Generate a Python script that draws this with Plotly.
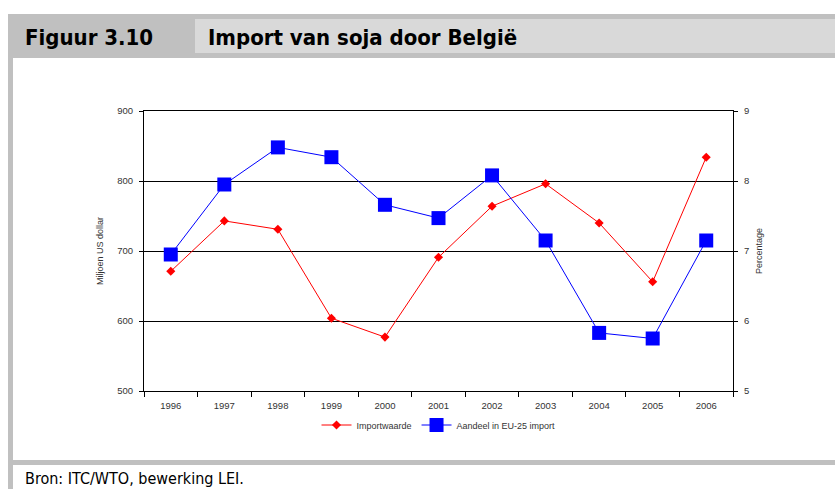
import plotly.graph_objects as go

years = ["1996", "1997", "1998", "1999", "2000", "2001", "2002", "2003", "2004", "2005", "2006"]
importwaarde = [671, 743, 731, 604, 577, 691, 764, 796, 740, 656, 834]  # miljoen US dollar
aandeel_eu25 = [6.95, 7.95, 8.48, 8.34, 7.66, 7.47, 8.08, 7.15, 5.83, 5.75, 7.15]  # percentage

W, H = 835, 489
L, R, T, B = 144, 733, 111, 391


def px(x):
    return (x - L) / (R - L)


def py(y):
    return (B - y) / (B - T)


NARROW = "DejaVu Sans Condensed, Roboto, Liberation Sans Narrow, sans-serif"
SMALL = "Liberation Sans, Arial, sans-serif"

fig = go.Figure()
fig.add_trace(go.Scatter(
    x=years, y=importwaarde, name="Importwaarde", mode="lines+markers",
    line=dict(color="#ff0000", width=1),
    marker=dict(symbol="diamond", size=7, color="#ff0000"),
    yaxis="y"))
fig.add_trace(go.Scatter(
    x=years, y=aandeel_eu25, name="Aandeel in EU-25 import", mode="lines+markers",
    line=dict(color="#0000ff", width=1),
    marker=dict(symbol="square", size=14, color="#0000ff"),
    yaxis="y2"))

gray = "#c0c0c0"
light = "#d9d9d9"
shapes = [
    dict(type="rect", xref="paper", yref="paper", x0=px(8), x1=px(835), y0=py(14), y1=py(58),
         fillcolor=gray, line=dict(width=0), layer="below"),
    dict(type="rect", xref="paper", yref="paper", x0=px(195), x1=px(835), y0=py(19), y1=py(53),
         fillcolor=light, line=dict(width=0), layer="below"),
    dict(type="rect", xref="paper", yref="paper", x0=px(8), x1=px(13), y0=py(14), y1=py(489),
         fillcolor=gray, line=dict(width=0), layer="below"),
    dict(type="rect", xref="paper", yref="paper", x0=px(8), x1=px(835), y0=py(460), y1=py(465),
         fillcolor=gray, line=dict(width=0), layer="below"),
]

annotations = [
    dict(text="<b>Figuur 3.10</b>", xref="paper", yref="paper", x=px(23), y=py(37),
         xanchor="left", yanchor="middle", showarrow=False,
         font=dict(family=NARROW, size=22, color="#000000")),
    dict(text="<b>Import van soja door België</b>", xref="paper", yref="paper", x=px(206), y=py(37),
         xanchor="left", yanchor="middle", showarrow=False,
         font=dict(family=NARROW, size=22, color="#000000")),
    dict(text="Bron: ITC/WTO, bewerking LEI.", xref="paper", yref="paper", x=px(23), y=py(478),
         xanchor="left", yanchor="middle", showarrow=False,
         font=dict(family=NARROW, size=16, color="#000000")),
]

fig.update_layout(
    width=W, height=H,
    margin=dict(l=L, r=W - R, t=T, b=H - B),
    paper_bgcolor="white", plot_bgcolor="white",
    showlegend=True,
    legend=dict(orientation="h", x=0.5, xanchor="center", y=py(425), yanchor="middle",
                font=dict(family=SMALL, size=9, color="#333333"),
                bgcolor="rgba(0,0,0,0)", itemwidth=30, tracegroupgap=0),
    xaxis=dict(type="category", range=[-0.5, 10.5], showgrid=False, zeroline=False,
               showline=True, linecolor="#000000", linewidth=1, mirror=True,
               ticks="outside", tickson="boundaries", ticklen=5, tickcolor="#000000",
               ticklabelstandoff=6,
               tickfont=dict(family=SMALL, size=9.5, color="#333333")),
    yaxis=dict(range=[500, 900], dtick=100, showgrid=True, gridcolor="#000000", gridwidth=1,
               zeroline=False, showline=True, linecolor="#000000", linewidth=1,
               ticks="outside", ticklen=4, tickcolor="#000000", ticklabelstandoff=4,
               tickfont=dict(family=SMALL, size=9.5, color="#333333"),
               title=dict(text="Miljoen US dollar", standoff=12,
                          font=dict(family=SMALL, size=9, color="#333333"))),
    yaxis2=dict(range=[5, 9], dtick=1, overlaying="y", side="right", showgrid=False,
                zeroline=False, showline=True, linecolor="#000000", linewidth=1,
                ticks="outside", ticklen=4, tickcolor="#000000", ticklabelstandoff=4,
                tickfont=dict(family=SMALL, size=9.5, color="#333333"),
                title=dict(text="Percentage", standoff=7,
                           font=dict(family=SMALL, size=9, color="#333333"))),
    shapes=shapes,
    annotations=annotations,
)

fig.write_html("out.html", config={"displayModeBar": False},
               post_script="document.body.style.margin='0';document.body.style.padding='0';")
